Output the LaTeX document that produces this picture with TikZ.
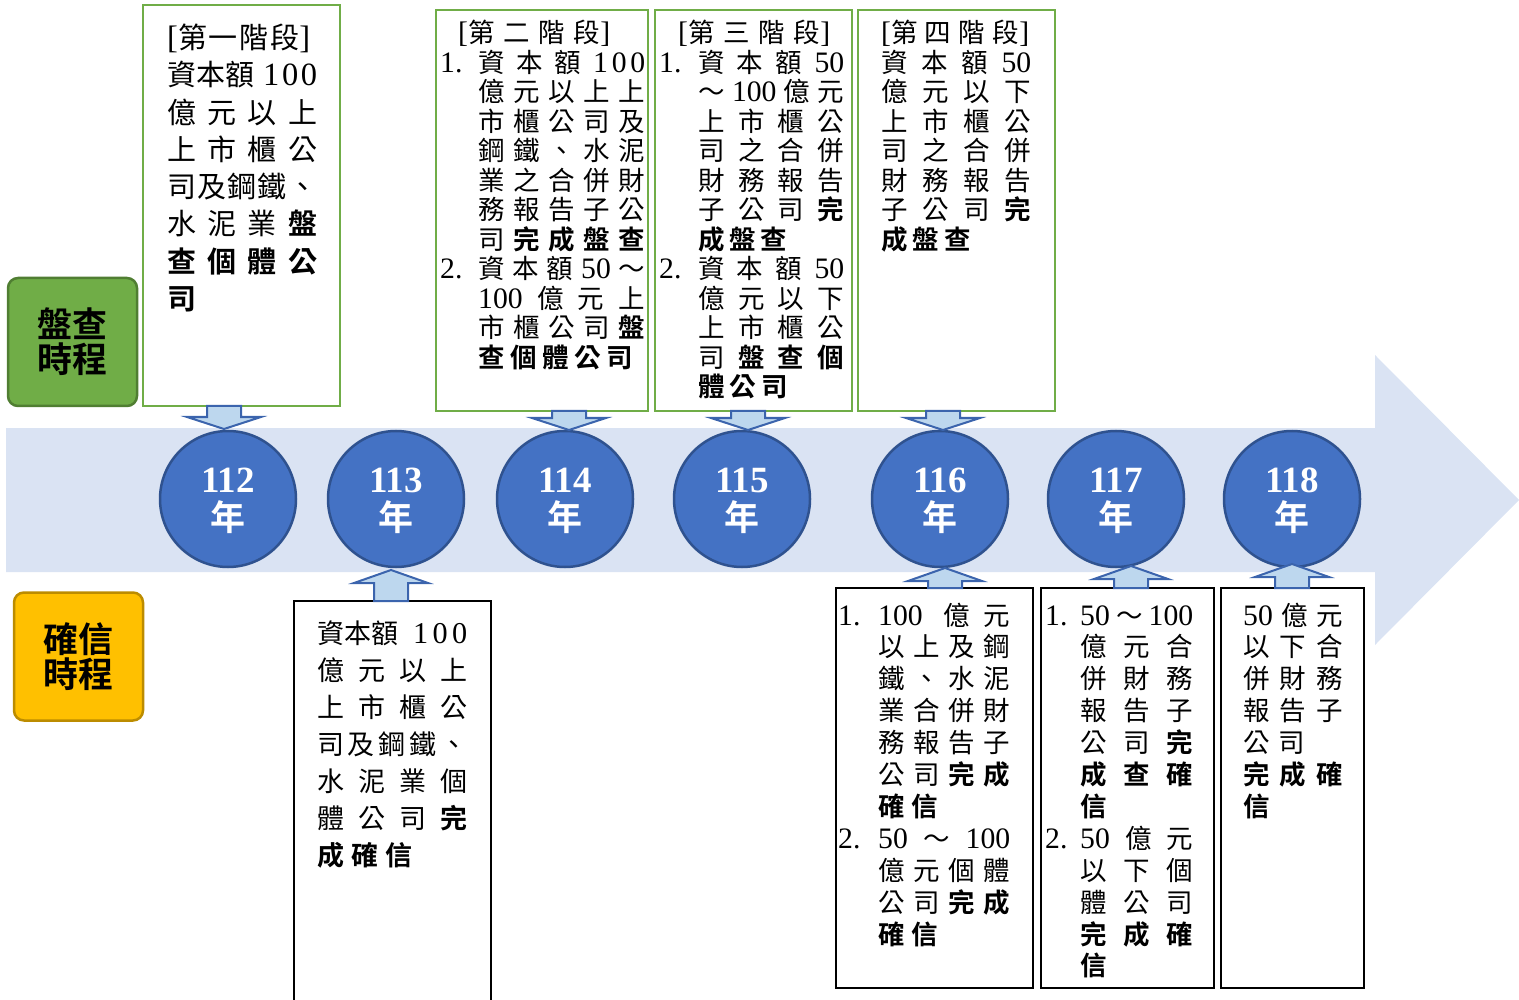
\documentclass[tikz,border=0pt]{standalone}
\usepackage{fontspec}
\setmainfont{Noto Sans CJK TC}[BoldFont={Noto Sans CJK TC Bold}]
\newfontfamily\rmnum{Liberation Serif}[Scale=1.12]
\newfontfamily\tnrfont{Liberation Serif}
\newcommand\Spread[2]{\makebox[#1pt][s]{\spaceskip=0pt plus 1fil\relax #2}}
\newcommand\Num[1]{{\rmnum #1}}
\newcommand\Bf[1]{\textbf{#1}}
\newcommand\Lab[2]{\makebox[#1pt][l]{\rmnum #2}}
\newcommand\Ind[1]{\hspace*{#1pt}}
\newcommand\TextBlock[3]{\begin{minipage}[t]{240pt}\fontsize{#1}{#2}\selectfont\lineskiplimit=-100pt\relax #3\end{minipage}}
\definecolor{bgarrow}{HTML}{DAE3F3}
\definecolor{circfill}{HTML}{4472C4}
\definecolor{circline}{HTML}{2F528F}
\definecolor{blkfill}{HTML}{BDD7EE}
\definecolor{blkline}{HTML}{3B64AD}
\definecolor{grn}{HTML}{70AD47}
\definecolor{grnline}{HTML}{507E32}
\definecolor{ylw}{HTML}{FFC000}
\definecolor{ylwline}{HTML}{BC8C00}
\tikzset{
  stagebox/.style={draw=grn, line width=2.5pt, fill=white, inner sep=0pt},
  confbox/.style={draw=black, line width=1.5pt, fill=white, inner sep=0pt},
  yearc/.style={circle, draw=circline, line width=2.5pt, fill=circfill, minimum size=136pt, inner sep=0pt},
  yearnum/.style={anchor=base, text=white, inner sep=0pt, font=\tnrfont\bfseries\fontsize{37}{37}\selectfont},
  yearchar/.style={anchor=base, text=white, inner sep=0pt, font=\bfseries\fontsize{35}{35}\selectfont},
  blkarrow/.style={draw=blkline, line width=2pt, fill=blkfill, line join=miter},
  txt/.style={inner sep=0pt, anchor=base west},
  labelbox/.style={rounded corners=10pt, line width=2.5pt, minimum width=129pt, minimum height=128pt, align=center, inner sep=0pt, font=\bfseries\fontsize{35}{35}\selectfont}
}
\newcommand\DownArr[3]{\draw[blkarrow] (#1-17,#2) -- (#1+17,#2) -- (#1+17,#3-12) -- (#1+37,#3-12) -- (#1,#3) -- (#1-37,#3-12) -- (#1-17,#3-12) -- cycle;}
\newcommand\UpArr[3]{\draw[blkarrow] (#1-17,#2) -- (#1+17,#2) -- (#1+17,#3+13) -- (#1+37,#3+13) -- (#1,#3) -- (#1-37,#3+13) -- (#1-17,#3+13) -- cycle;}
\begin{document}
\begin{tikzpicture}[x=1pt,y=-1pt]
\useasboundingbox (0,0) rectangle (1519,1000);
% background timeline arrow
\fill[bgarrow] (6,428) -- (1375,428) -- (1375,355) -- (1519,500) -- (1375,645) -- (1375,572) -- (6,572) -- cycle;
% year circles
\foreach \x/\yr in {228/112, 396/113, 565/114, 742/115, 940/116, 1116/117, 1292/118} {
  \node[yearc] (c\yr) at (\x,499) {};
  \node[yearnum] (n\yr) at (\x,492) {\yr};
  \node[yearchar] (y\yr) at (\x,530.5) {年};
}
% stage boxes (top)
\node[stagebox, minimum width=197pt, minimum height=401pt] (s1) at (241.5,205.5) {};
\node[stagebox, minimum width=212pt, minimum height=401pt] (s2) at (542,210.5) {};
\node[stagebox, minimum width=197pt, minimum height=401pt] (s3) at (753.5,210.5) {};
\node[stagebox, minimum width=197pt, minimum height=401pt] (s4) at (956.5,210.5) {};
% confirmation boxes (bottom)
\node[confbox, minimum width=197pt, minimum height=409pt] (b1) at (392.5,805.5) {};
\node[confbox, minimum width=197pt, minimum height=400pt] (b2) at (934.5,788) {};
\node[confbox, minimum width=173pt, minimum height=400pt] (b3) at (1127.5,788) {};
\node[confbox, minimum width=143pt, minimum height=400pt] (b4) at (1292.5,788) {};
% texts of stage boxes
\node[txt] (ts1) at (167,48.5) {\TextBlock{29}{37.3}{%
\Spread{143}{\Num{[}第 一 階 段\Num{]}}\\
\Spread{150}{資本額 \Spread{54}{\Num{1 0 0}}}\\
\Spread{150}{億 元 以 上}\\
\Spread{150}{上 市 櫃 公}\\
\Spread{150}{司 及 鋼 鐵 、}\\
\Spread{150}{水 泥 業 \Bf{盤}}\\
\Spread{150}{\Bf{查} \Bf{個} \Bf{體} \Bf{公}}\\
\Bf{司}}};
\node[txt] (ts2) at (440,43) {\TextBlock{26.5}{29.5}{%
\Ind{18}\Spread{152}{\Num{[}第 二 階 段\Num{]}}\\
\Lab{38}{1.}\Spread{167}{資 本 額 \Spread{52}{\Num{1 0 0}}}\\
\Ind{38}\Spread{167}{億 元 以 上 上}\\
\Ind{38}\Spread{167}{市 櫃 公 司 及}\\
\Ind{38}\Spread{167}{鋼 鐵 、 水 泥}\\
\Ind{38}\Spread{167}{業 之 合 併 財}\\
\Ind{38}\Spread{167}{務 報 告 子 公}\\
\Ind{38}\Spread{167}{司 \Bf{完} \Bf{成} \Bf{盤} \Bf{查}}\\
\Lab{38}{2.}\Spread{167}{資 本 額 \Num{50} ～}\\
\Ind{38}\Spread{167}{\Num{100} 億 元 上}\\
\Ind{38}\Spread{167}{市 櫃 公 司 \Bf{盤}}\\
\Ind{38}\Spread{155}{\Bf{查} \Bf{個} \Bf{體} \Bf{公} \Bf{司}}}};
\node[txt] (ts3) at (659,43) {\TextBlock{26.5}{29.5}{%
\Ind{19}\Spread{152}{\Num{[}第 三 階 段\Num{]}}\\
\Lab{39}{1.}\Spread{146}{資 本 額 \Num{50}}\\
\Ind{39}\Spread{146}{～ \Num{100} 億 元}\\
\Ind{39}\Spread{146}{上 市 櫃 公}\\
\Ind{39}\Spread{146}{司 之 合 併}\\
\Ind{39}\Spread{146}{財 務 報 告}\\
\Ind{39}\Spread{146}{子 公 司 \Bf{完}}\\
\Ind{39}\Spread{89}{\Bf{成} \Bf{盤} \Bf{查}}\\
\Lab{39}{2.}\Spread{146}{資 本 額 \Num{50}}\\
\Ind{39}\Spread{146}{億 元 以 下}\\
\Ind{39}\Spread{146}{上 市 櫃 公}\\
\Ind{39}\Spread{146}{司 \Bf{盤} \Bf{查} \Bf{個}}\\
\Ind{39}\Spread{90}{\Bf{體} \Bf{公} \Bf{司}}}};
\node[txt] (ts4) at (881,43) {\TextBlock{26.5}{29.5}{%
\Spread{148}{\Num{[}第 四 階 段\Num{]}}\\
\Spread{150}{資 本 額 \Num{50}}\\
\Spread{150}{億 元 以 下}\\
\Spread{150}{上 市 櫃 公}\\
\Spread{150}{司 之 合 併}\\
\Spread{150}{財 務 報 告}\\
\Spread{150}{子 公 司 \Bf{完}}\\
\Spread{90}{\Bf{成} \Bf{盤} \Bf{查}}}};
% texts of confirmation boxes
\node[txt] (tb1) at (317,643.3) {\TextBlock{27}{37}{%
\Spread{150}{資本額 \Spread{54}{\Num{1 0 0}}}\\
\Spread{150}{億 元 以 上}\\
\Spread{150}{上 市 櫃 公}\\
\Spread{150}{司 及 鋼 鐵 、}\\
\Spread{150}{水 泥 業 個}\\
\Spread{150}{體 公 司 \Bf{完}}\\
\Spread{95}{\Bf{成} \Bf{確} \Bf{信}}}};
\node[txt] (tb2) at (838,625) {\TextBlock{26.5}{31.9}{%
\Lab{40}{1.}\Spread{132}{\Num{100}\hspace{8pt} 億 元}\\
\Ind{40}\Spread{132}{以 上 及 鋼}\\
\Ind{40}\Spread{132}{鐵 、 水 泥}\\
\Ind{40}\Spread{132}{業 合 併 財}\\
\Ind{40}\Spread{132}{務 報 告 子}\\
\Ind{40}\Spread{132}{公 司 \Bf{完} \Bf{成}}\\
\Ind{40}\Spread{60}{\Bf{確} \Bf{信}}\\
\Lab{40}{2.}\Spread{132}{\Num{50} ～ \Num{100}}\\
\Ind{40}\Spread{132}{億 元 個 體}\\
\Ind{40}\Spread{132}{公 司 \Bf{完} \Bf{成}}\\
\Ind{40}\Spread{60}{\Bf{確} \Bf{信}}}};
\node[txt] (tb3) at (1045,625) {\TextBlock{26.5}{31.9}{%
\Lab{35}{1.}\Spread{113}{\Num{50} ～ \Num{100}}\\
\Ind{35}\Spread{113}{億 元 合}\\
\Ind{35}\Spread{113}{併 財 務}\\
\Ind{35}\Spread{113}{報 告 子}\\
\Ind{35}\Spread{113}{公 司 \Bf{完}}\\
\Ind{35}\Spread{113}{\Bf{成} \Bf{查} \Bf{確}}\\
\Ind{35}\Bf{信}\\
\Lab{35}{2.}\Spread{113}{\Num{50} 億 元}\\
\Ind{35}\Spread{113}{以 下 個}\\
\Ind{35}\Spread{113}{體 公 司}\\
\Ind{35}\Spread{113}{\Bf{完} \Bf{成} \Bf{確}}\\
\Ind{35}\Bf{信}}};
\node[txt] (tb4) at (1243,625) {\TextBlock{26.5}{31.9}{%
\Spread{100}{\Num{50} 億 元}\\
\Spread{100}{以 下 合}\\
\Spread{100}{併 財 務}\\
\Spread{100}{報 告 子}\\
\Spread{62}{公 司}\\
\Spread{100}{\Bf{完} \Bf{成} \Bf{確}}\\
\Bf{信}}};
% block arrows
\DownArr{224}{406}{429}
\DownArr{569}{411}{430}
\DownArr{748}{411}{430}
\DownArr{943}{411}{430}
\UpArr{391}{601}{570}
\UpArr{945}{588}{568}
\UpArr{1131}{588}{566}
\UpArr{1292}{588}{564}
% side labels
\node[labelbox, fill=grn, draw=grnline] (lblA) at (72.5,342) {盤查\\時程};
\node[labelbox, fill=ylw, draw=ylwline] (lblB) at (78.5,656.5) {確信\\時程};
\end{tikzpicture}
\end{document}
